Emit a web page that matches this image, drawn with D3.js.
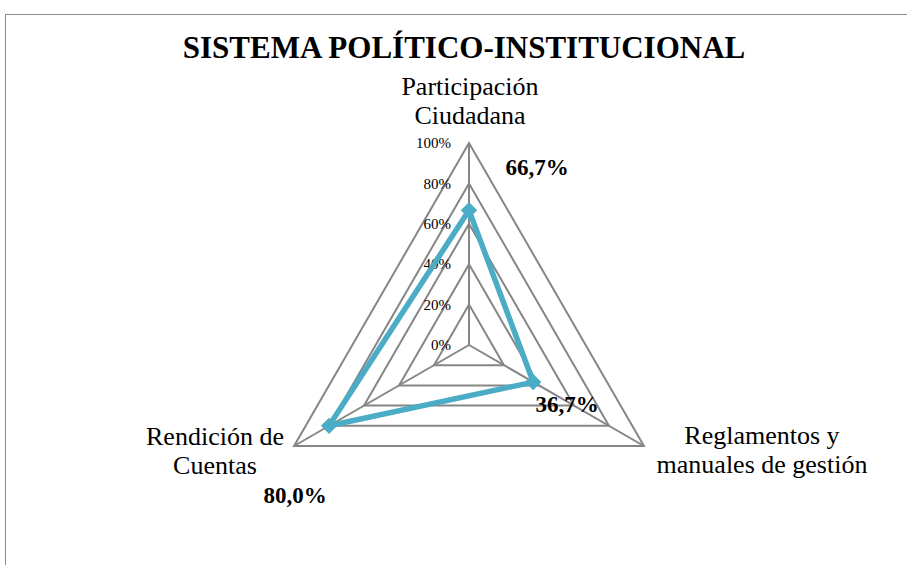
<!DOCTYPE html>
<html>
<head>
<meta charset="utf-8">
<script src="https://cdn.jsdelivr.net/npm/d3@7"></script>
<style>
  body { margin: 0; background: #fff; }
  svg text { font-family: "Liberation Serif", "Times New Roman", serif; fill: #000; }
</style>
</head>
<body>
<div id="chart"></div>
<script>
const categories = ["Participación\nCiudadana", "Reglamentos y\nmanuales de gestión", "Rendición de\nCuentas"];
const values = [0.667, 0.367, 0.80];
const valueLabels = ["66,7%", "36,7%", "80,0%"];
const ticks = [0, 0.2, 0.4, 0.6, 0.8, 1.0];
const tickLabels = ["0%", "20%", "40%", "60%", "80%", "100%"];

document.addEventListener("DOMContentLoaded", function () {
    const width = 907, height = 565;
    const cx = 469, cy = 345;

    const svg = d3.select("#chart").append("svg")
        .attr("width", width)
        .attr("height", height);

    // chart frame
    svg.append("rect")
        .attr("x", 5.5).attr("y", 14.5)
        .attr("width", 1000).attr("height", 1000)
        .attr("fill", "none")
        .attr("stroke", "#8c8c8c")
        .attr("stroke-width", 1);

    svg.append("text")
        .attr("x", 464).attr("y", 58)
        .attr("text-anchor", "middle")
        .style("font-size", "31px")
        .style("font-weight", "bold")
        .text("SISTEMA POLÍTICO-INSTITUCIONAL");

    const r = d3.scaleLinear().domain([0, 1]).range([0, 202]);
    const angle = i => -Math.PI / 2 + i * 2 * Math.PI / categories.length;
    const pt = (i, v) => [cx + r(v) * Math.cos(angle(i)), cy + r(v) * Math.sin(angle(i))];

    const g = svg.append("g");

    // grid triangles
    g.selectAll("polygon.grid")
        .data(ticks.filter(t => t > 0))
        .enter().append("polygon")
        .attr("class", "grid")
        .attr("points", t => categories.map((c, i) => pt(i, t).join(",")).join(" "))
        .attr("fill", "none")
        .attr("stroke", "#868686")
        .attr("stroke-width", 2);

    // spokes
    g.selectAll("line.spoke")
        .data(categories)
        .enter().append("line")
        .attr("class", "spoke")
        .attr("x1", cx).attr("y1", cy)
        .attr("x2", (d, i) => pt(i, 1)[0])
        .attr("y2", (d, i) => pt(i, 1)[1])
        .attr("stroke", "#868686")
        .attr("stroke-width", 2);

    // tick labels
    g.selectAll("text.tick")
        .data(ticks)
        .enter().append("text")
        .attr("class", "tick")
        .attr("x", cx - 18)
        .attr("y", t => cy - r(t))
        .attr("dy", "0.35em")
        .attr("text-anchor", "end")
        .style("font-size", "15px")
        .text((t, i) => tickLabels[i]);

    // data line
    const line = d3.line().curve(d3.curveLinearClosed);
    g.append("path")
        .attr("d", line(values.map((v, i) => pt(i, v))))
        .attr("fill", "none")
        .attr("stroke", "#4bacc6")
        .attr("stroke-width", 5.5)
        .attr("stroke-linejoin", "round");

    g.selectAll("path.marker")
        .data(values)
        .enter().append("path")
        .attr("class", "marker")
        .attr("d", d3.symbol().type(d3.symbolDiamond2).size(170))
        .attr("transform", (v, i) => `translate(${pt(i, v)})`)
        .attr("fill", "#4bacc6");

    // category labels
    const catPos = [[470, 95], [762, 444], [215, 445]];
    categories.forEach((c, i) => {
        const t = svg.append("text")
            .attr("text-anchor", "middle")
            .style("font-size", "26px");
        c.split("\n").forEach((s, k) => {
            t.append("tspan")
                .attr("x", catPos[i][0])
                .attr("y", catPos[i][1] + k * 29)
                .text(s);
        });
    });

    // value labels
    const labelPos = [[537, 175], [567, 412], [295, 503]];
    svg.selectAll("text.value")
        .data(valueLabels)
        .enter().append("text")
        .attr("class", "value")
        .attr("x", (d, i) => labelPos[i][0])
        .attr("y", (d, i) => labelPos[i][1])
        .attr("text-anchor", "middle")
        .style("font-size", "23px")
        .style("font-weight", "bold")
        .text(d => d);
});
</script>
</body>
</html>
